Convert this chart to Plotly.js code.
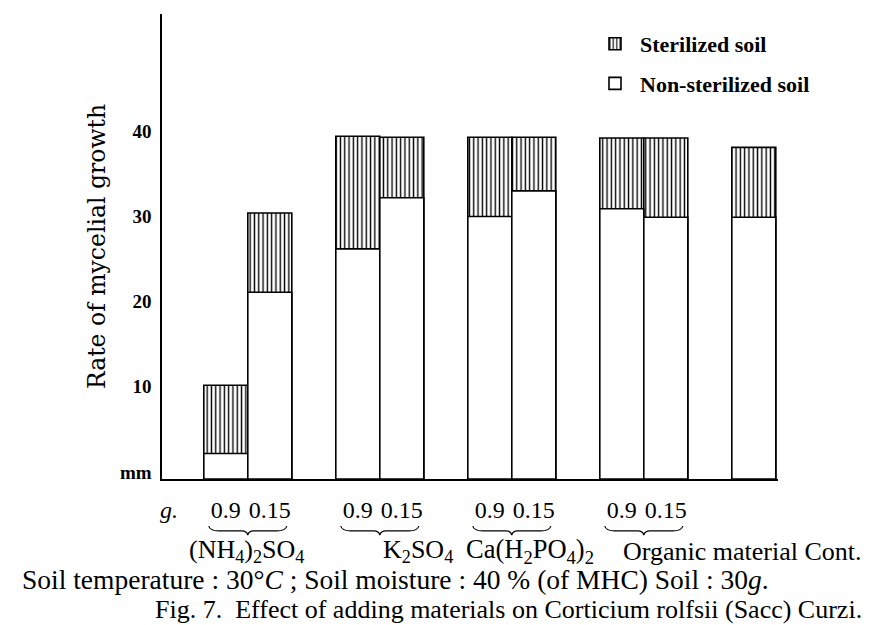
<!DOCTYPE html>
<html>
<head>
<meta charset="utf-8">
<script src="https://cdn.plot.ly/plotly-3.0.1.min.js"></script>
<style>html,body{margin:0;padding:0;background:#fff;}#chart{width:882px;height:625px;}</style>
</head>
<body>
<div id="chart"></div>
<script>
// ---- data ----
const barPositions = [0, 1, 3, 4, 6, 7, 9, 10, 12];
const barNames = ['(NH4)2SO4 0.9', '(NH4)2SO4 0.15', 'K2SO4 0.9', 'K2SO4 0.15',
                  'Ca(H2PO4)2 0.9', 'Ca(H2PO4)2 0.15', 'Organic material 0.9', 'Organic material 0.15', 'Cont.'];
const sterilized    = [11.0, 31.2, 40.2, 40.1, 40.1, 40.1, 40.0, 40.0, 38.9];
const nonSterilized = [3.0, 21.9, 27.0, 33.0, 30.8, 33.8, 31.7, 30.7, 30.7];
const doseTickVals  = [0, 1, 3, 4, 6, 7, 9, 10];
const doseTickText  = ['0.9', '0.15', '0.9', '0.15', '0.9', '0.15', '0.9', '0.15'];
const yTickVals = [0, 10, 20, 30, 40];
const yTickText = ['mm', '10', '20', '30', '40'];
const groupCenters = [0.5, 3.5, 6.5, 9.5];

// ---- layout helpers (pixel -> paper) ----
const W = 882, H = 625, L = 162, R = 778, T = 14, B = 479;
const px = v => (v - L) / (R - L);
const py = v => (B - v) / (B - T);

const serif = 'Liberation Serif, Times New Roman, serif';

const traces = [
  {
    type: 'bar', name: 'Sterilized soil', x: barPositions, y: sterilized, width: 1,
    hovertext: barNames, hoverinfo: 'text+y', textposition: 'none', legendgroup: 'a',
    marker: {color: '#ffffff', line: {color: '#000', width: 1.6},
             pattern: {shape: '|', fgcolor: '#000', bgcolor: '#fff', size: 4.3, solidity: 0.32, fillmode: 'replace'}}
  },
  {
    type: 'bar', name: 'Non-sterilized soil', x: barPositions, y: nonSterilized, width: 1,
    hovertext: barNames, hoverinfo: 'text+y', textposition: 'none', legendgroup: 'b',
    marker: {color: '#ffffff', line: {color: '#000', width: 1.6}}
  }
];

// curly brace opening upward (pixel path, y positive = up)
function bracePath(w, h) {
  const a = w / 2, m = -h * 0.55, t = -h;
  return `M ${-a} 0 Q ${-a+1} ${m} ${-a+10} ${m} L -6 ${m} Q -1 ${m} 0 ${t} Q 1 ${m} 6 ${m} L ${a-10} ${m} Q ${a-1} ${m} ${a} 0`;
}

const shapes = groupCenters.map(c => ({
  type: 'path', xref: 'x', yref: 'paper', xsizemode: 'pixel', ysizemode: 'pixel',
  xanchor: c, yanchor: py(526), path: bracePath(78, 9),
  line: {color: '#000', width: 1.2}
}));

const txt = (text, x, y, size, anchor) => ({
  text: text, xref: 'paper', yref: 'paper', x: px(x), y: py(y),
  xanchor: anchor || 'center', yanchor: 'middle', showarrow: false,
  font: {family: serif, size: size, color: '#000'}
});

const annotations = [
  txt('<i>g.</i>', 169, 510, 24),
  txt('(NH<sub>4</sub>)<sub>2</sub>SO<sub>4</sub>', 246, 551, 26),
  txt('K<sub>2</sub>SO<sub>4</sub>', 418, 551, 26),
  txt('Ca(H<sub>2</sub>PO<sub>4</sub>)<sub>2</sub>', 464, 551, 26.5, 'left'),
  txt('Organic material Cont.', 864, 551, 26, 'right'),
  txt('Soil temperature : 30°<i>C</i> ; Soil moisture : 40 % (of MHC) Soil : 30<i>g</i>.', 20, 579, 27.5, 'left'),
  txt('Fig. 7.\u00A0 Effect of adding materials on Corticium rolfsii (Sacc) Curzi.', 864, 609, 26, 'right')
];

const layout = {
  width: W, height: H,
  margin: {l: L, r: W - R, t: T, b: H - B, pad: 0},
  paper_bgcolor: '#fff', plot_bgcolor: '#fff',
  barmode: 'overlay', bargap: 0,
  showlegend: true,
  legend: {x: px(590), y: py(23), xanchor: 'left', yanchor: 'top',
           font: {family: serif, size: 22, color: '#000', weight: 'bold'},
           traceorder: 'grouped', tracegroupgap: 8, itemwidth: 40, bgcolor: 'rgba(0,0,0,0)'},
  xaxis: {range: [-1.45, 12.55], showline: true, linecolor: '#000', linewidth: 1.6,
          showgrid: false, zeroline: false, ticks: '', tickvals: doseTickVals, ticktext: doseTickText,
          ticklabelstandoff: 9, tickfont: {family: serif, size: 24, color: '#000'}, fixedrange: true},
  yaxis: {range: [0, 54.55], showline: true, linecolor: '#000', linewidth: 1.6,
          showgrid: false, zeroline: false, ticks: '', tickvals: yTickVals, ticktext: yTickText,
          ticklabelshift: -7, ticklabelstandoff: 5,
          tickfont: {family: serif, size: 19, color: '#000', weight: 'bold'},
          title: {text: 'Rate of mycelial growth', standoff: 8,
                  font: {family: 'DejaVu Serif, serif', size: 23.5, color: '#000'}},
          fixedrange: true},
  shapes: shapes,
  annotations: annotations
};

Plotly.newPlot('chart', traces, layout, {displayModeBar: false, staticPlot: true});
</script>
</body>
</html>
